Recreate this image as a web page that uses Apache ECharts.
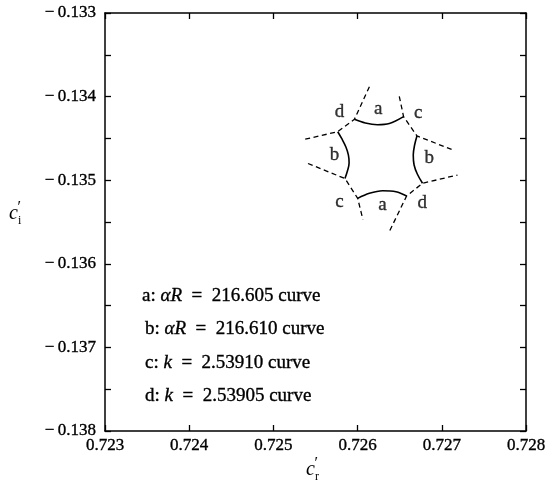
<!DOCTYPE html>
<html>
<head>
<meta charset="utf-8">
<script src="https://cdn.jsdelivr.net/npm/echarts@6/dist/echarts.min.js"></script>
<style>
html,body{margin:0;padding:0;background:#fff;}
#chart{width:555px;height:490px;}
</style>
</head>
<body>
<div id="chart"></div>
<script>
// ---- data (c'_r, c'_i) ----
const xTickLabels = ['0.723','0.724','0.725','0.726','0.727','0.728'];
const yTickLabels = ['\u2212\u20090.138','\u2212\u20090.137','\u2212\u20090.136','\u2212\u20090.135','\u2212\u20090.134','\u2212\u20090.133'];

// solid curves
const curveATop = [[0.725962,-0.134272],[0.726092,-0.134316],[0.726235,-0.134336],[0.726377,-0.134322],[0.726546,-0.134240]];
const curveABottom = [[0.726001,-0.135217],[0.726140,-0.135157],[0.726297,-0.135126],[0.726456,-0.135138],[0.726582,-0.135189]];
const curveBLeft = [[0.725764,-0.134420],[0.725814,-0.134507],[0.725861,-0.134603],[0.725891,-0.134699],[0.725899,-0.134794],[0.725879,-0.134890],[0.725850,-0.134980]];
const curveBRight = [[0.726705,-0.134471],[0.726677,-0.134579],[0.726661,-0.134699],[0.726671,-0.134818],[0.726709,-0.134926],[0.726771,-0.135037]];

// dashed curves
const curveDTopLeft = [[0.726140,-0.133882],[0.725962,-0.134272],[0.725764,-0.134420],[0.725370,-0.134511]];
const curveCTopRight = [[0.726495,-0.133996],[0.726546,-0.134240],[0.726705,-0.134471],[0.727135,-0.134639]];
const curveCBottomLeft = [[0.725411,-0.134800],[0.725850,-0.134980],[0.726001,-0.135217],[0.726063,-0.135470]];
const curveDBottomRight = [[0.726383,-0.135602],[0.726582,-0.135189],[0.726771,-0.135037],[0.727186,-0.134938]];

// curve letters
const curveLetters = ['d','a','c','b','b','c','a','d'];
const curveLetterX = [0.725784,0.726246,0.726720,0.725725,0.726851,0.725784,0.726294,0.726768];
const curveLetterY = [-0.134184,-0.134148,-0.134196,-0.134699,-0.134734,-0.135261,-0.135297,-0.135273];

// key text
const keyLetters = ['a','b','c','d'];
const keyVars = ['\u03b1R','\u03b1R','k','k'];
const keyValues = ['216.605','216.610','2.53910','2.53905'];

const FONT = '"Liberation Serif","DejaVu Serif",serif';
const INK = '#000';
const THICK = 0.35;

const chart = echarts.init(document.getElementById('chart'), null, {renderer:'canvas'});

function fmtX(v){
  const i = Math.round((v - 0.723) / 0.001);
  return xTickLabels[i] !== undefined ? xTickLabels[i] : '';
}
function fmtY(v){
  const i = Math.round((v + 0.138) / 0.001);
  return yTickLabels[i] !== undefined ? yTickLabels[i] : '';
}

const axisLine = {show:true, lineStyle:{color:INK, width:1.5}};
const xBase = {
  type:'value', min:0.723, max:0.728, interval:0.001,
  axisLine: axisLine,
  axisTick:{show:true, inside:true, length:6, lineStyle:{color:INK, width:1.3}},
  splitLine:{show:false}
};
const yBase = {
  type:'value', min:-0.138, max:-0.133, interval:0.001,
  axisLine: axisLine,
  axisTick:{show:true, inside:true, length:6, lineStyle:{color:INK, width:1.3}},
  minorTick:{show:true, splitNumber:2, length:6, lineStyle:{color:INK, width:1.3}},
  splitLine:{show:false}, minorSplitLine:{show:false}
};

function solid(data){
  return {type:'line', data:data, xAxisIndex:0, yAxisIndex:0, smooth:0.35, symbol:'none',
    lineStyle:{color:INK, width:1.6}, silent:true, z:3};
}
function dashed(data){
  return {type:'line', data:data, xAxisIndex:0, yAxisIndex:0, smooth:false, symbol:'none',
    lineStyle:{color:INK, width:1.3, type:[5,3.5]}, silent:true, z:2};
}

const letterData = curveLetters.map((l,i)=>[curveLetterX[i], curveLetterY[i], l]);

const tokN = {fontFamily:FONT, fontSize:19, fill:INK, stroke:INK, lineWidth:THICK};
const tokI = {fontFamily:FONT, fontSize:19, fontStyle:'italic', fill:INK, stroke:INK, lineWidth:THICK};

const keyGraphics = keyLetters.map((l,i)=>({
  type:'text',
  x: i === 0 ? 142 : 145,
  y: 296 + i * 33.3,
  style:{
    text:'{n|' + l + ': }{i|' + keyVars[i] + '}{n|\u2002=\u2002' + keyValues[i] + ' curve}',
    verticalAlign:'middle',
    fill:INK,
    rich:{ n: tokN, i: tokI }
  }
}));

function axisName(x, y, sub){
  return {
    type:'group', x:x, y:y, children:[
      {type:'text', x:0, y:0, style:{text:'c', font:'italic 20px ' + FONT, fill:INK, verticalAlign:'middle'}},
      {type:'text', x:8.5, y:-6, style:{text:'\u2032', font:'16px ' + FONT, fill:INK, verticalAlign:'middle'}},
      {type:'text', x:9, y:6.5, style:{text:sub, font:'12px ' + FONT, fill:INK, verticalAlign:'middle'}}
    ]
  };
}

chart.setOption({
  animation:false,
  backgroundColor:'#fff',
  grid:{left:105, right:29, top:13, bottom:59, containLabel:false},
  xAxis:[
    Object.assign({}, xBase, {position:'bottom',
      axisLabel:{show:true, margin:6, formatter:fmtX, fontFamily:FONT, fontSize:17, color:INK,
        textBorderColor:INK, textBorderWidth:THICK}}),
    Object.assign({}, xBase, {position:'top', axisLabel:{show:false}})
  ],
  yAxis:[
    Object.assign({}, yBase, {position:'left',
      axisLabel:{show:true, margin:9, formatter:fmtY, fontFamily:FONT, fontSize:17, color:INK,
        textBorderColor:INK, textBorderWidth:THICK}}),
    Object.assign({}, yBase, {position:'right', axisLabel:{show:false}})
  ],
  series:[
    solid(curveATop), solid(curveABottom), solid(curveBLeft), solid(curveBRight),
    dashed(curveDTopLeft), dashed(curveCTopRight), dashed(curveCBottomLeft), dashed(curveDBottomRight),
    {type:'scatter', data:letterData, symbolSize:1, itemStyle:{color:'rgba(0,0,0,0)'}, silent:true,
      label:{show:true, position:'inside', formatter:p=>p.value[2], fontFamily:FONT, fontSize:19, color:INK,
        textBorderColor:INK, textBorderWidth:THICK}}
  ],
  graphic: keyGraphics.concat([axisName(306, 470, 'r'), axisName(9, 214, 'i')])
});
</script>
</body>
</html>
